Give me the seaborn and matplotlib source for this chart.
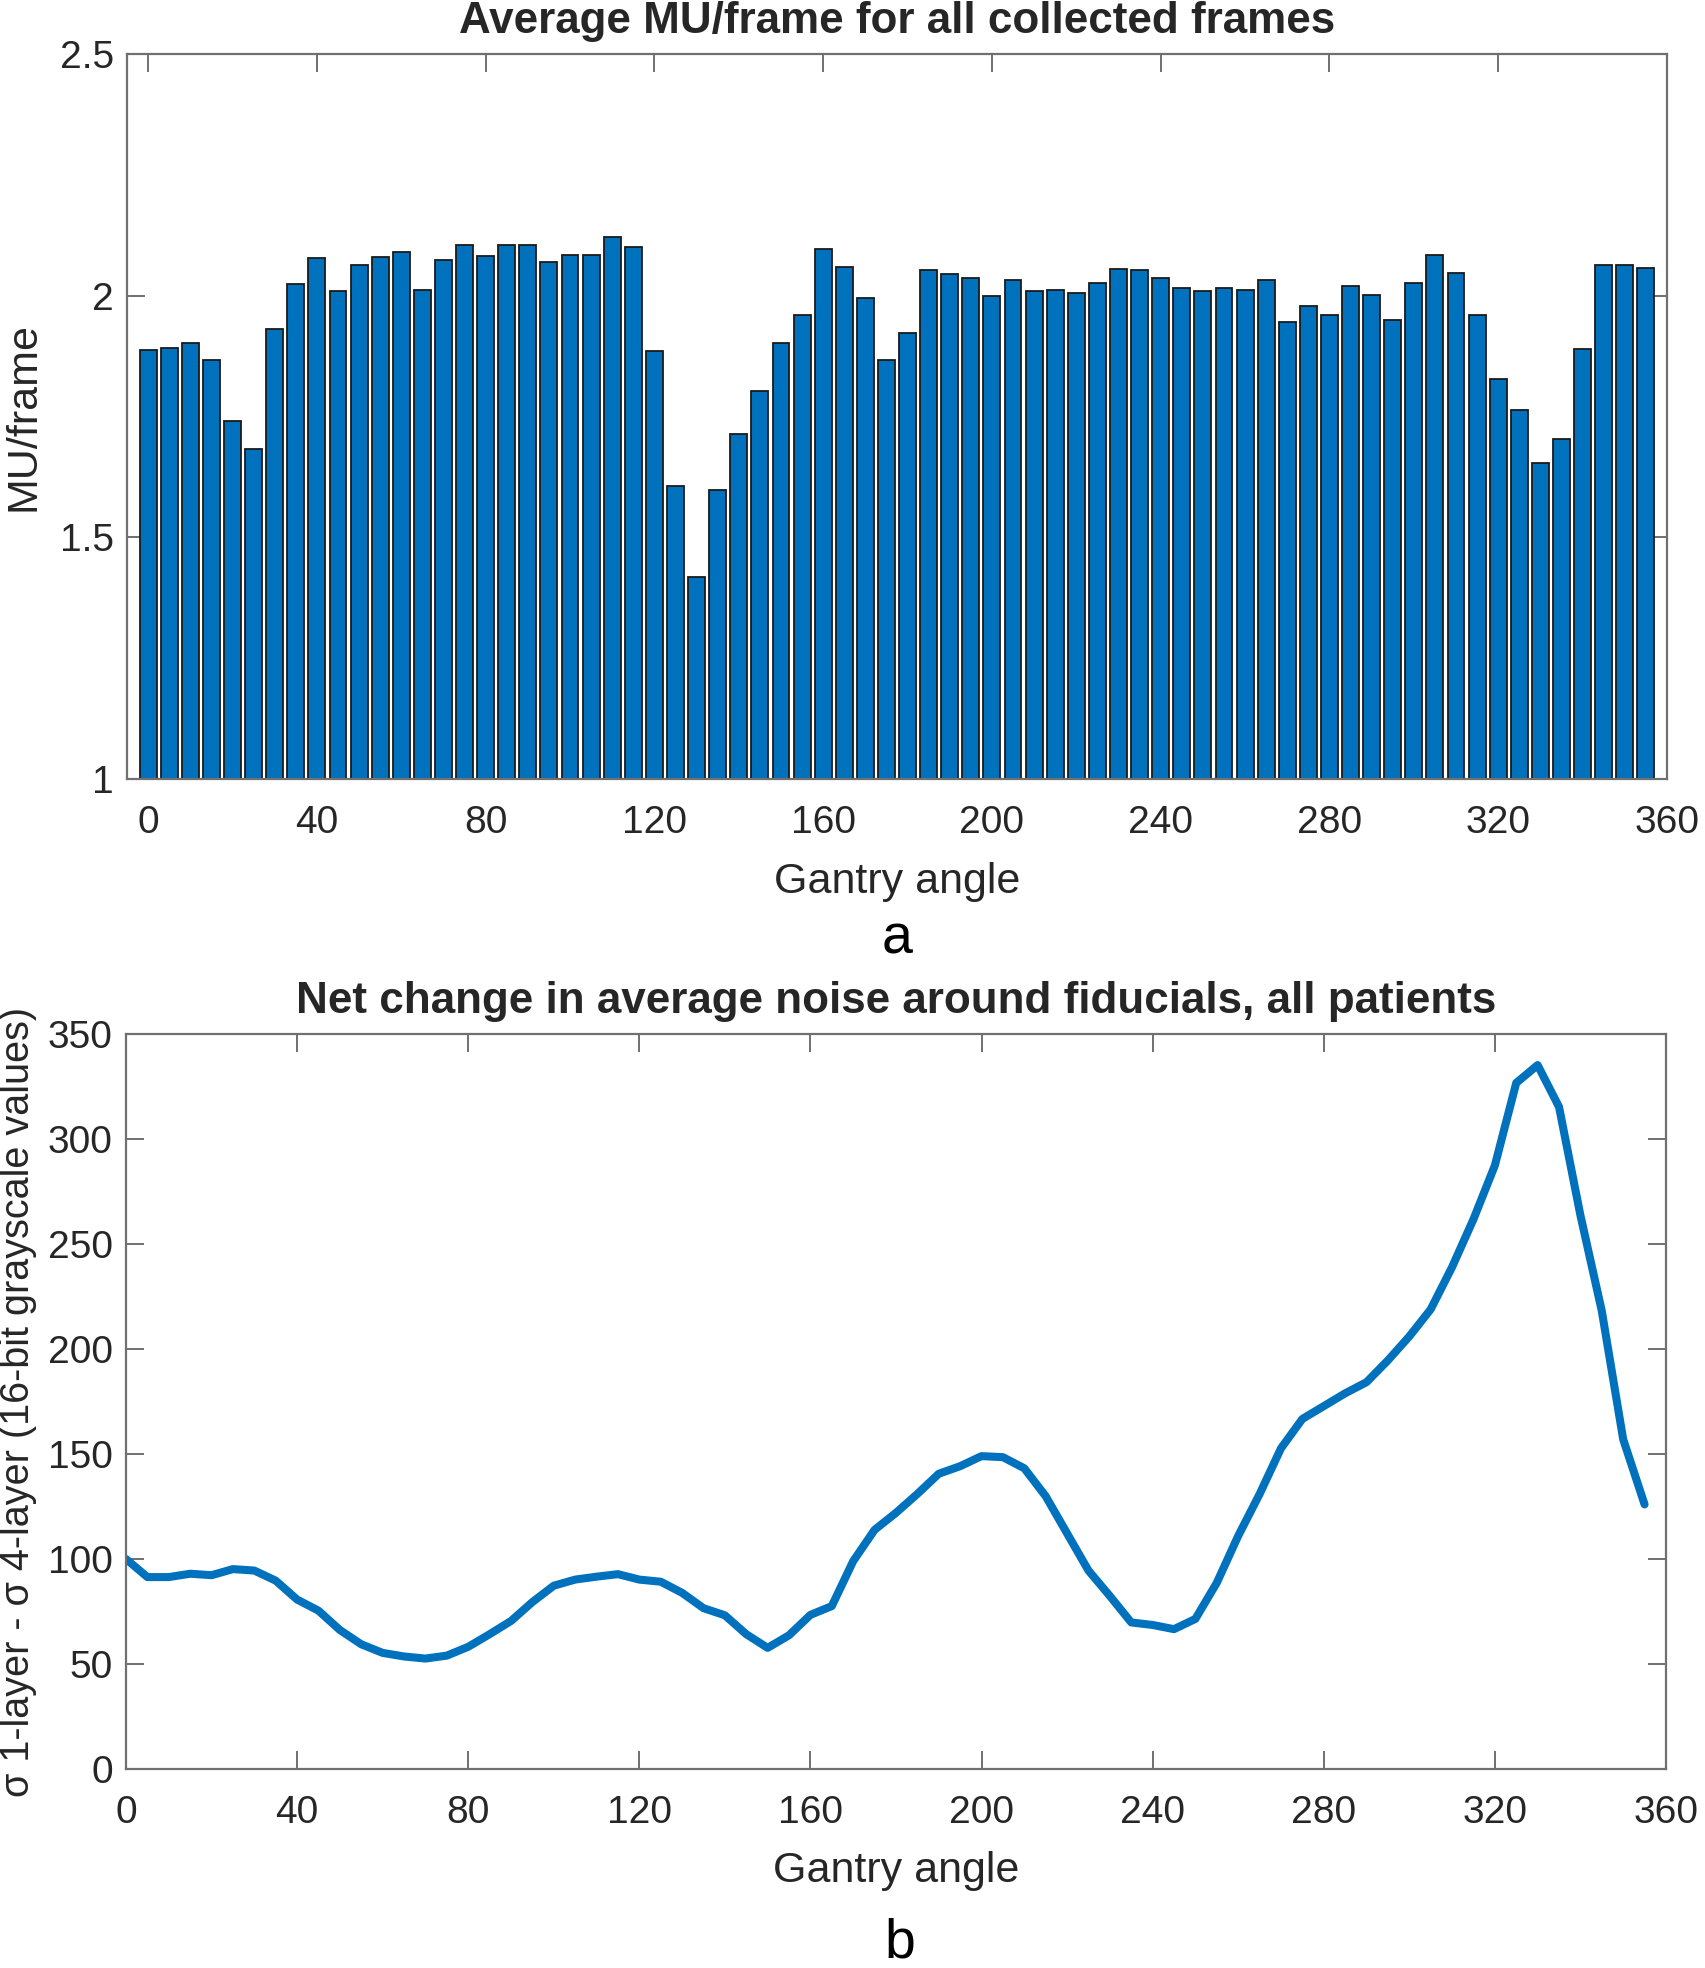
import numpy as np
import pandas as pd
import matplotlib
matplotlib.use("Agg")
import matplotlib.pyplot as plt
import seaborn as sns

# ----------------------------------------------------------
# Data
# ----------------------------------------------------------

gantry_angles = list(range(0, 360, 5))

mu_per_frame = [
    1.888, 1.892, 1.902, 1.866, 1.741, 1.683, 1.930, 2.023, 2.077, 2.009,
    2.064, 2.080, 2.091, 2.012, 2.074, 2.104, 2.081, 2.104, 2.104, 2.070,
    2.084, 2.084, 2.122, 2.100, 1.885, 1.607, 1.418, 1.598, 1.714, 1.803,
    1.902, 1.960, 2.097, 2.060, 1.995, 1.866, 1.922, 2.053, 2.044, 2.036,
    1.999, 2.032, 2.009, 2.012, 2.006, 2.026, 2.056, 2.053, 2.036, 2.015,
    2.009, 2.015, 2.012, 2.032, 1.946, 1.978, 1.960, 2.019, 2.002, 1.950,
    2.026, 2.084, 2.046, 1.960, 1.827, 1.764, 1.654, 1.703, 1.889, 2.064,
    2.064, 2.057,
]

noise_change = [
    100.0, 91.4, 91.4, 93.0, 92.3, 95.2, 94.5, 89.7, 80.7, 75.4,
    66.2, 59.4, 55.3, 53.6, 52.6, 54.0, 58.2, 64.2, 70.5, 79.5,
    87.3, 90.2, 91.6, 92.8, 90.2, 89.2, 83.9, 76.6, 73.2, 64.2,
    57.7, 63.7, 73.4, 77.6, 99.0, 113.9, 122.0, 131.0, 140.6, 144.2,
    149.0, 148.5, 143.2, 129.9, 112.2, 94.5, 82.4, 69.8, 68.6, 66.6,
    71.5, 88.7, 111.0, 130.9, 152.7, 166.7, 172.8, 178.9, 184.2, 194.6,
    206.0, 218.9, 239.0, 261.8, 287.4, 326.7, 335.2, 315.3, 263.7, 218.1,
    157.0, 126.0,
]

x_ticks = list(range(0, 361, 40))
mu_ticks = [1, 1.5, 2, 2.5]
mu_tick_labels = ["1", "1.5", "2", "2.5"]
noise_ticks = list(range(0, 351, 50))

df_mu = pd.DataFrame({"angle": gantry_angles, "mu": mu_per_frame})
df_noise = pd.DataFrame({"angle": gantry_angles, "noise": noise_change})

# ----------------------------------------------------------
# Style
# ----------------------------------------------------------

sns.set_theme(style="white")
plt.rcParams["font.family"] = ["Liberation Sans", "DejaVu Sans"]

blue = "#0072BD"
axis_grey = "#707070"
text_dark = "#262626"

fig = plt.figure(figsize=(17.05, 19.68), dpi=100)
ax1 = fig.add_axes([0.0745, 0.6042, 0.9032, 0.3684])
ax2 = fig.add_axes([0.0739, 0.1011, 0.9032, 0.3735])


def style_axes(ax):
    for s in ax.spines.values():
        s.set_visible(True)
        s.set_color(axis_grey)
        s.set_linewidth(1.6)
    ax.tick_params(direction="in", length=13, width=1.4, color=axis_grey,
                   labelsize=28, labelcolor=text_dark,
                   top=True, right=True, bottom=True, left=True)
    ax.tick_params(axis="x", pad=19)
    ax.tick_params(axis="y", pad=9.5)


# ----------------------------------------------------------
# (a) Bar chart
# ----------------------------------------------------------

sns.barplot(data=df_mu, x="angle", y="mu", native_scale=True, ax=ax1,
            color=blue, saturation=1, width=0.8,
            edgecolor="#1a1a1a", linewidth=1.3, errorbar=None)
ax1.set_xlim(-5, 360)
ax1.set_ylim(1, 2.5)
ax1.set_xticks(x_ticks)
ax1.set_yticks(mu_ticks)
ax1.set_yticklabels(mu_tick_labels)
ax1.set_title("Average MU/frame for all collected frames",
              fontsize=31.7, fontweight="bold", pad=15)
ax1.set_xlabel("Gantry angle", fontsize=31, color=text_dark, labelpad=15)
ax1.set_ylabel("MU/frame", fontsize=31, color=text_dark)
ax1.yaxis.set_label_coords(-0.054, 0.5)
style_axes(ax1)

# ----------------------------------------------------------
# (b) Line chart
# ----------------------------------------------------------

sns.lineplot(data=df_noise, x="angle", y="noise", ax=ax2,
             color=blue, linewidth=5.8)
ax2.set_xlim(0, 360)
ax2.set_ylim(0, 350)
ax2.set_xticks(x_ticks)
ax2.set_yticks(noise_ticks)
ax2.set_title("Net change in average noise around fiducials, all patients",
              fontsize=31.7, fontweight="bold", pad=15)
ax2.set_xlabel("Gantry angle", fontsize=31, color=text_dark, labelpad=14)
ax2.set_ylabel("σ 1-layer - σ 4-layer (16-bit grayscale values)",
               fontsize=28.5, color=text_dark)
ax2.yaxis.set_label_coords(-0.058, 0.5)
style_axes(ax2)

fig.text(0.526, 0.5225, "a", fontsize=40, ha="center", va="center", color="black")
fig.text(0.528, 0.0125, "b", fontsize=40, ha="center", va="center", color="black")

fig.savefig("out.png", dpi=100, facecolor="white")
